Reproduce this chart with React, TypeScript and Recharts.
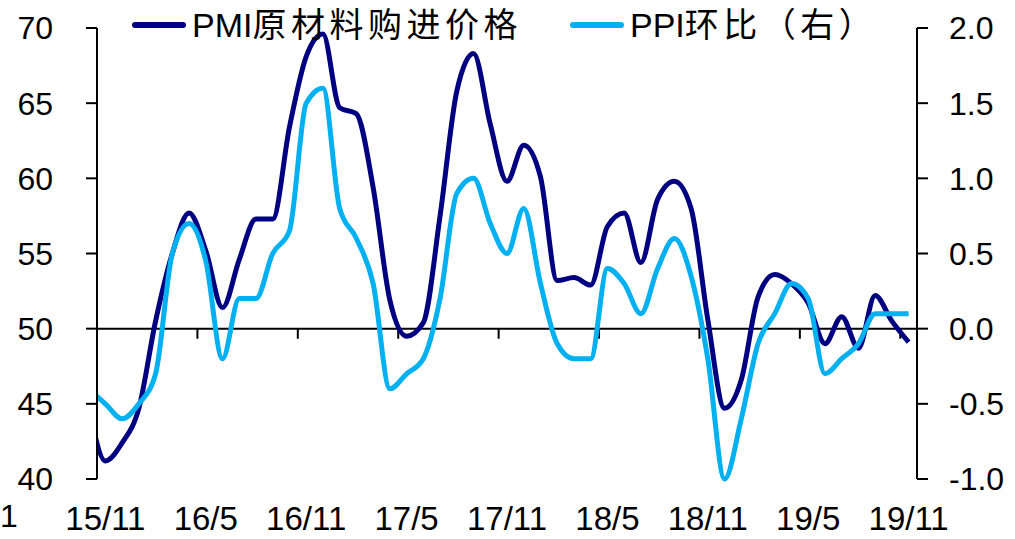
import React from 'react';
import { LineChart, Line, XAxis, YAxis, ReferenceLine, Legend } from 'recharts';

// 月度数据，从 15/10 开始（该点落在左轴外，只露出一段连线）到 19/11
const pmiInputPrice = [
  44.9, 41.2, 42.4, 44.7, 50.5, 55.0, 57.7, 55.2, 51.4, 54.6,
  57.3, 57.3, 63.4, 68.1, 69.6, 64.7, 64.3, 59.4, 51.9, 49.5,
  50.4, 57.5, 65.8, 68.3, 63.6, 59.8, 62.2, 60.1, 53.2, 53.4,
  52.9, 56.8, 57.7, 54.4, 58.6, 59.8, 58.0, 50.6, 44.7, 46.6,
  52.1, 53.6, 53.0, 51.7, 49.0, 50.8, 48.7, 52.2, 50.5, 49.1,
];
const ppiMoM = [
  -0.4, -0.5, -0.6, -0.5, -0.3, 0.5, 0.7, 0.45, -0.2, 0.2,
  0.2, 0.5, 0.65, 1.5, 1.6, 0.8, 0.6, 0.3, -0.4, -0.3,
  -0.2, 0.2, 0.9, 1.0, 0.7, 0.5, 0.8, 0.3, -0.1, -0.2,
  -0.2, 0.4, 0.3, 0.1, 0.4, 0.6, 0.35, -0.2, -1.0, -0.6,
  -0.1, 0.1, 0.3, 0.2, -0.3, -0.2, -0.1, 0.1, 0.1, 0.1,
];
const tickLabels = ['15/11', '16/5', '16/11', '17/5', '17/11', '18/5', '18/11', '19/5', '19/11'];
const leftTicks = [40, 45, 50, 55, 60, 65, 70];
const rightTicks = [-1, -0.5, 0, 0.5, 1, 1.5, 2];

const NAVY = '#000080';
const SKY = '#00B0F0';
const FONT = '"Liberation Sans", Arial, "Noto Sans CJK SC", sans-serif';

// t = 距 15/11 的月数
const data = pmiInputPrice.map((pmi, k) => ({ t: k - 1, pmi, ppi: ppiMoM[k] }));
const xTicks = tickLabels.map((_, k) => k * 6);
// 每半年一个刻度，落在两个月份之间
const bandTicks = tickLabels.slice(1).map((_, k) => (k + 1) * 6 - 0.5);

const legendItems = [
  { latin: 'PMI', cjk: '原材料购进价格', color: NAVY, left: 132 },
  { latin: 'PPI', cjk: '环比（右）', color: SKY, left: 570 },
];

const renderLegend = () => (
  <div style={{ position: 'relative', width: 1015, height: 50, fontFamily: FONT }}>
    {legendItems.map((it) => (
      <div key={it.latin} style={{ position: 'absolute', left: it.left, top: 0, height: 50, whiteSpace: 'nowrap' }}>
        <div style={{ position: 'absolute', left: 0, top: 22, width: 54, height: 6, borderRadius: 3, background: it.color }} />
        <div style={{ position: 'absolute', left: 60, top: 8, fontSize: 34, lineHeight: '34px', color: '#000' }}>
          {it.latin}
          <span style={{ letterSpacing: 4.5 }}>{it.cjk}</span>
        </div>
      </div>
    ))}
  </div>
);

export default function App() {
  const tickStyle = { fill: '#000', fontSize: 32, fontFamily: FONT };
  return (
    <div style={{ position: 'absolute', left: 0, top: 0, width: 1015, height: 539, overflow: 'hidden', background: '#fff' }}>
      <span style={{ position: 'absolute', left: 0, top: 500, fontSize: 32, fontFamily: FONT, lineHeight: '32px' }}>1</span>
      <LineChart width={1015} height={539} data={data} margin={{ top: 28, right: 0, bottom: 0, left: 0 }}>
        <XAxis
          dataKey="t"
          type="number"
          domain={[-0.5, 48.5]}
          allowDataOverflow
          ticks={xTicks}
          interval={0}
          tickFormatter={(v: number) => tickLabels[v / 6]}
          axisLine={false}
          tickLine={false}
          tickSize={6}
          tickMargin={22}
          height={60}
          tick={{ fill: '#000', fontSize: 33, fontFamily: FONT }}
        />
        <YAxis
          yAxisId="left"
          domain={[40, 70]}
          ticks={leftTicks}
          width={97}
          tickSize={11}
          tickMargin={33}
          axisLine={{ stroke: '#000', strokeWidth: 2 }}
          tickLine={{ stroke: '#000', strokeWidth: 2 }}
          tick={tickStyle}
        />
        <YAxis
          yAxisId="right"
          orientation="right"
          domain={[-1, 2]}
          ticks={rightTicks}
          tickFormatter={(v: number) => v.toFixed(1)}
          width={98}
          tickSize={11}
          tickMargin={21}
          axisLine={{ stroke: '#000', strokeWidth: 2 }}
          tickLine={{ stroke: '#000', strokeWidth: 2 }}
          tick={{ ...tickStyle, textAnchor: 'start' }}
        />
        <ReferenceLine yAxisId="left" y={50} stroke="#000" strokeWidth={2} />
        {bandTicks.map((b) => (
          <ReferenceLine
            key={b}
            yAxisId="left"
            segment={[{ x: b, y: 50 }, { x: b, y: 49.33 }]}
            stroke="#000"
            strokeWidth={2}
          />
        ))}
        <Legend
          layout="horizontal"
          verticalAlign="middle"
          align="center"
          content={renderLegend}
          wrapperStyle={{ top: 0, left: 0, width: 1015, height: 50 }}
        />
        <Line
          yAxisId="left"
          dataKey="pmi"
          name="PMI原材料购进价格"
          type="monotone"
          stroke={NAVY}
          strokeWidth={5}
          dot={false}
          activeDot={false}
          isAnimationActive={false}
        />
        <Line
          yAxisId="right"
          dataKey="ppi"
          name="PPI环比（右）"
          type="monotone"
          stroke={SKY}
          strokeWidth={5}
          dot={false}
          activeDot={false}
          isAnimationActive={false}
        />
      </LineChart>
    </div>
  );
}
